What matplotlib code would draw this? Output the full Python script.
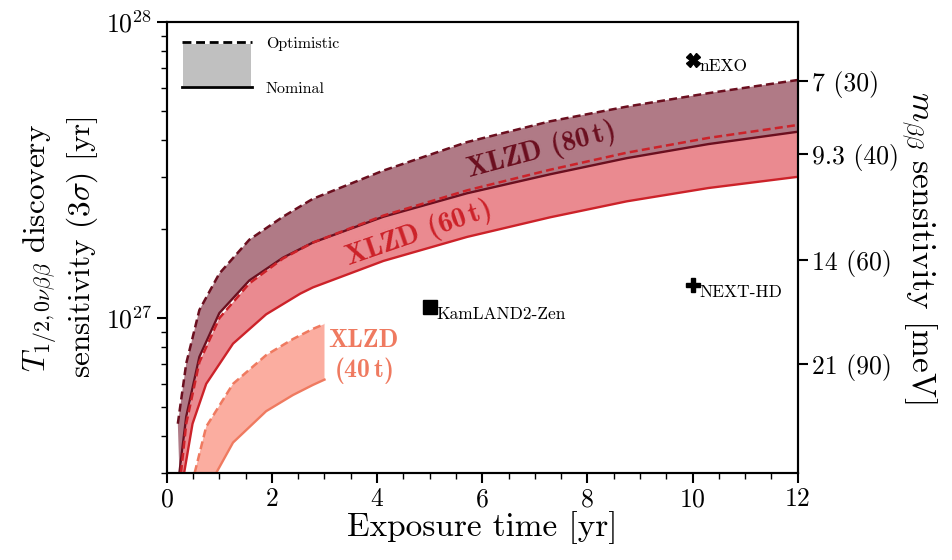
import numpy as np
import matplotlib.pyplot as plt

plt.rcParams['font.family'] = 'cmr10'
plt.rcParams['mathtext.fontset'] = 'cm'
plt.rcParams['axes.unicode_minus'] = False
plt.rcParams['axes.formatter.use_mathtext'] = True

# --- Data (exposure time [yr], T1/2 sensitivity [yr]) ---
t80o = [0.21, 0.37, 0.62, 1.0, 1.57, 2.21, 2.78, 4.12, 5.71, 7.29, 8.75, 10.3, 12.0]
opt80 = [4.4e26, 7.03e26, 1.065e27, 1.415e27, 1.84e27, 2.2e27, 2.53e27, 3.15e27,
         3.93e27, 4.62e27, 5.18e27, 5.75e27, 6.37e27]
t80n = [0.24, 0.37, 0.62, 1.0, 1.57, 2.21, 2.78, 4.12, 5.71, 7.29, 8.75, 10.3, 12.0]
nom80 = [3.0e26, 4.65e26, 7.4e26, 1.04e27, 1.34e27, 1.6e27, 1.8e27, 2.2e27,
         2.64e27, 3.06e27, 3.47e27, 3.87e27, 4.26e27]

t60o = [0.27, 0.37, 0.62, 1.0, 1.57, 2.21, 2.78, 4.12, 5.71, 7.29, 8.75, 10.3, 12.0]
opt60 = [3.0e26, 4.4e26, 7.1e26, 1.0e27, 1.31e27, 1.59e27, 1.8e27, 2.22e27,
         2.7e27, 3.17e27, 3.62e27, 4.06e27, 4.49e27]
t60n = [0.33, 0.49, 0.75, 1.26, 1.89, 2.54, 2.78, 4.12, 5.71, 7.29, 8.75, 10.3, 12.0]
nom60 = [3.0e26, 4.4e26, 6.0e26, 8.2e26, 1.03e27, 1.21e27, 1.27e27, 1.56e27,
         1.88e27, 2.19e27, 2.48e27, 2.75e27, 3.0e27]

t40o = [0.53, 0.75, 1.26, 1.89, 2.4, 2.78, 3.0]
opt40 = [3.0e26, 4.3e26, 6.0e26, 7.5e26, 8.5e26, 9.2e26, 9.55e26]
t40n = [0.94, 1.26, 1.89, 2.4, 2.78, 3.0]
nom40 = [3.0e26, 3.8e26, 4.85e26, 5.5e26, 5.95e26, 6.2e26]

experiments = ['nEXO', 'KamLAND2-Zen', 'NEXT-HD']
exp_time = [10, 5, 10]
exp_T = [7.45e27, 1.09e27, 1.29e27]
exp_marker = ['X', 's', 'P']

mbb_ticks = ['7 (30)', '9.3 (40)', '14 (60)', '21 (90)']
mbb_vals = [7, 9.3, 14, 21]
mbb_norm = 3.09e29  # T = C / m^2

c80_line, c80_fill = '#6b0f1f', '#b07a86'
c60_line, c60_fill = '#cc2229', '#ea8a90'
c40_line, c40_fill = '#ef7a60', '#fbada0'
dash = (0, (3.2, 1.7))

fig = plt.figure(figsize=(9.53, 5.60), dpi=100)
ax = fig.add_axes([0.175, 0.1554, 0.662, 0.8053])


def band(ax, tn, Tn, to, To, color, z):
    xs = np.concatenate([tn, to[::-1]])
    ys = np.concatenate([Tn, To[::-1]])
    ax.fill(xs, ys, color=color, lw=0, zorder=z)


band(ax, t60n, nom60, t60o, opt60, c60_fill, 1)
band(ax, t80n, nom80, t80o, opt80, c80_fill, 2)
band(ax, t40n, nom40, t40o, opt40, c40_fill, 1)

ax.plot(t60n, nom60, color=c60_line, lw=1.7, zorder=3)
ax.plot(t80n, nom80, color=c80_line, lw=1.7, zorder=3)
ax.plot(t60o, opt60, color=c60_line, lw=1.8, ls=dash, zorder=4)
ax.plot(t80o, opt80, color=c80_line, lw=1.8, ls=dash, zorder=4)
ax.plot(t40n, nom40, color=c40_line, lw=1.7, zorder=3)
ax.plot(t40o, opt40, color=c40_line, lw=1.8, ls=dash, zorder=3)

for name, t, T, mk in zip(experiments, exp_time, exp_T, exp_marker):
    ax.plot(t, T, marker=mk, color='black', ms=10, ls='none', zorder=5)
    ax.annotate(name, (t, T), xytext=(5, -5), textcoords='offset points',
                ha='left', va='center', fontsize=12.5)

# band labels
ax.text(7.1, 3.68e27, r'XLZD (80$\,$t)', family='cmb10', fontsize=20.5, color=c80_line,
        rotation=15, ha='center', va='center', rotation_mode='anchor')
ax.text(4.78, 1.93e27, r'XLZD (60$\,$t)', family='cmb10', fontsize=20.5, color=c60_line,
        rotation=19, ha='center', va='center', rotation_mode='anchor')
ax.text(3.74, 7.35e26, 'XLZD\n(40$\\,$t)', family='cmb10', fontsize=18.5, color=c40_line,
        ha='center', va='center', linespacing=1.15)

# custom legend box (top left)
ax.plot([0.024, 0.135], [0.956, 0.956], transform=ax.transAxes, color='black', lw=2.0,
        ls=dash)
ax.plot([0.024, 0.135], [0.856, 0.856], transform=ax.transAxes, color='black', lw=2.0)
ax.fill_between([0.026, 0.133], [0.858, 0.858], [0.952, 0.952], transform=ax.transAxes,
                color='#c0c0c0', lw=0)
ax.text(0.157, 0.952, 'Optimistic', transform=ax.transAxes, fontsize=11.5, va='center')
ax.text(0.157, 0.852, 'Nominal', transform=ax.transAxes, fontsize=11.5, va='center')

ax.set_yscale('log')
ax.set_xlim(0, 12)
ax.set_ylim(3e26, 1e28)
ax.set_xticks([0, 2, 4, 6, 8, 10, 12])
ax.set_xticks(np.arange(0, 12.01, 0.5), minor=True)
ax.set_xlabel('Exposure time [yr]', fontsize=24, labelpad=0)
ax.set_ylabel('$T_{1/2,0\\nu\\beta\\beta}$ discovery\nsensitivity $(3\\sigma)$ [yr]',
              fontsize=22.5, labelpad=4)

for sp in ax.spines.values():
    sp.set_linewidth(1.5)
ax.tick_params(which='major', labelsize=18.5, length=7, width=1.5, direction='out')
ax.tick_params(which='minor', length=4, width=1.0, direction='out')
ax.tick_params(axis='y', which='minor', labelleft=False)

ax2 = ax.twinx()
ax2.set_yscale('log')
ax2.set_ylim(ax.get_ylim())
ax2.set_yticks([mbb_norm / m ** 2 for m in mbb_vals])
ax2.set_yticklabels(mbb_ticks)
ax2.yaxis.set_minor_locator(plt.NullLocator())
ax2.tick_params(labelsize=18.5, length=7, width=1.5, direction='out')
ax2.set_ylabel('$m_{\\beta\\beta}$ sensitivity [meV]', fontsize=24, rotation=270,
               labelpad=28)
for sp in ax2.spines.values():
    sp.set_linewidth(1.5)

fig.savefig('out.png', dpi=100)
